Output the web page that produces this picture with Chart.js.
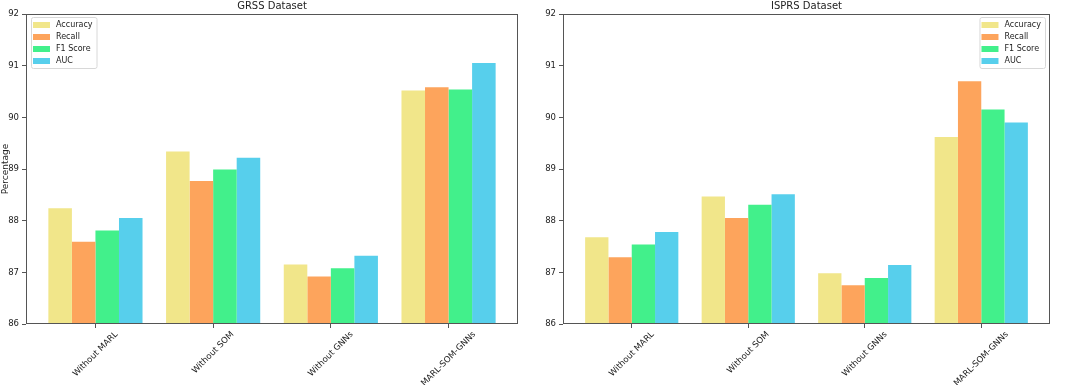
<!DOCTYPE html>
<html>
<head>
<meta charset="utf-8">
<script src="https://cdn.jsdelivr.net/npm/chart.js@4/dist/chart.umd.min.js"></script>
<style>
    html, body { margin: 0; padding: 0; background: #fff; }
    #wrap { position: relative; width: 1065px; height: 385px; }
    canvas { position: absolute; top: 0; }
</style>
</head>
<body>
<div id="wrap">
    <canvas id="grssChart" width="532" height="385" style="left:0"></canvas>
    <canvas id="isprsChart" width="533" height="385" style="left:532px"></canvas>
</div>
<script>
// ablation results
const categories = ['Without MARL', 'Without SOM', 'Without GNNs', 'MARL-SOM-GNNs'];
const seriesNames = ['Accuracy', 'Recall', 'F1 Score', 'AUC'];
const seriesColors = ['#F1E68A', '#FDA45C', '#42F08B', '#57CFEC'];

const grssAccuracy = [88.24, 89.34, 87.15, 90.52];
const grssRecall   = [87.59, 88.77, 86.92, 90.58];
const grssF1       = [87.81, 88.99, 87.08, 90.54];
const grssAuc      = [88.05, 89.22, 87.32, 91.05];

const isprsAccuracy = [87.68, 88.47, 86.98, 89.62];
const isprsRecall   = [87.29, 88.05, 86.75, 90.70];
const isprsF1       = [87.54, 88.31, 86.89, 90.15];
const isprsAuc      = [87.78, 88.51, 87.14, 89.90];

const yTicks = [86, 87, 88, 89, 90, 91, 92];

const FONT = "'DejaVu Sans', sans-serif";
const TEXT = '#222';
const AXIS = '#555';

// box around the plot (matplotlib spines) + title centred over the axes
const framePlugin = {
    id: 'frame',
    afterDraw(chart, args, opts) {
        const { ctx, chartArea: a } = chart;
        ctx.save();
        ctx.strokeStyle = AXIS;
        ctx.lineWidth = 1;
        ctx.strokeRect(Math.round(a.left) + 0.5, Math.round(a.top) + 0.5,
            Math.round(a.right - a.left) - 1, Math.round(a.bottom - a.top) - 1);
        ctx.font = '10px ' + FONT;
        ctx.fillStyle = TEXT;
        ctx.textAlign = 'center';
        ctx.textBaseline = 'middle';
        ctx.fillText(opts.title, (a.left + a.right) / 2, 6);
        ctx.restore();
    }
};

// rotated category labels centred on the tick
const xLabelPlugin = {
    id: 'xLabels',
    afterDraw(chart) {
        const { ctx, chartArea: a } = chart;
        const xs = chart.scales.x;
        const size = 8.5;
        ctx.save();
        ctx.font = size + 'px ' + FONT;
        ctx.fillStyle = TEXT;
        ctx.textAlign = 'center';
        ctx.textBaseline = 'middle';
        categories.forEach((c, i) => {
            const px = xs.getPixelForValue(i);
            const w = ctx.measureText(c).width;
            const half = (w + size) / (2 * Math.SQRT2);
            ctx.save();
            ctx.translate(px, a.bottom + 6 + half);
            ctx.rotate(-Math.PI / 4);
            ctx.fillText(c, 0, 0);
            ctx.restore();
        });
        ctx.restore();
    }
};

// legend drawn inside the plot area
const innerLegendPlugin = {
    id: 'innerLegend',
    afterDraw(chart, args, opts) {
        const { ctx, chartArea: a } = chart;
        const sets = chart.data.datasets;
        ctx.save();
        ctx.font = '8px ' + FONT;
        const textW = Math.max(...sets.map(d => ctx.measureText(d.label).width));
        const boxW = 25 + textW + 4;
        const rowH = 12;
        const boxH = sets.length * rowH + 3;
        const x0 = opts.side === 'right' ? a.right - 5 - boxW : a.left + 5;
        const y0 = a.top + 3;
        ctx.fillStyle = 'rgba(255,255,255,0.85)';
        ctx.strokeStyle = '#d8d8d8';
        ctx.lineWidth = 1;
        ctx.beginPath();
        ctx.roundRect(x0 + 0.5, y0 + 0.5, boxW, boxH, 2);
        ctx.fill();
        ctx.stroke();
        ctx.textBaseline = 'middle';
        sets.forEach((d, i) => {
            const cy = y0 + 8 + i * rowH;
            ctx.fillStyle = d.backgroundColor;
            ctx.fillRect(x0 + 2, cy - 3, 17, 6);
            ctx.fillStyle = TEXT;
            ctx.fillText(d.label, x0 + 25, cy);
        });
        ctx.restore();
    }
};

function makeDatasets(values) {
    return values.map((vals, k) => ({
        label: seriesNames[k],
        data: vals.map((v, i) => ({ x: i, y: v })),
        backgroundColor: seriesColors[k],
        borderWidth: 0,
        categoryPercentage: 0.8,
        barPercentage: 1.0
    }));
}

function makeChart(id, title, values, opts) {
    const ctx = document.getElementById(id).getContext('2d');
    return new Chart(ctx, {
        type: 'bar',
        data: { datasets: makeDatasets(values) },
        plugins: [framePlugin, xLabelPlugin, innerLegendPlugin],
        options: {
            responsive: false,
            animation: false,
            devicePixelRatio: 1,
            layout: { padding: { left: 0, right: opts.padRight, top: 14, bottom: 0 } },
            plugins: {
                legend: { display: false },
                tooltip: { enabled: false },
                title: { display: false },
                frame: { title: title },
                innerLegend: { side: opts.legendSide }
            },
            scales: {
                x: {
                    type: 'linear',
                    offset: false,
                    min: -0.59,
                    max: 3.59,
                    afterBuildTicks: s => { s.ticks = categories.map((c, i) => ({ value: i })); },
                    afterFit: s => { s.height = 61; },
                    ticks: { display: false },
                    grid: { display: true, offset: false, drawOnChartArea: false, drawTicks: true, tickLength: 4, color: AXIS },
                    border: { display: false }
                },
                y: {
                    min: yTicks[0],
                    max: yTicks[yTicks.length - 1],
                    afterBuildTicks: s => { s.ticks = yTicks.map(v => ({ value: v })); },
                    afterFit: s => { s.width = opts.yWidth; },
                    ticks: { color: TEXT, padding: 3, font: { family: FONT, size: 8.5 } },
                    grid: { display: true, drawOnChartArea: false, drawTicks: true, tickLength: 4, color: AXIS },
                    border: { display: false },
                    title: {
                        display: !!opts.yTitle,
                        text: opts.yTitle || '',
                        color: TEXT,
                        padding: 0,
                        font: { family: FONT, size: 9 }
                    }
                }
            }
        }
    });
}

makeChart('grssChart', 'GRSS Dataset',
    [grssAccuracy, grssRecall, grssF1, grssAuc],
    { padRight: 14, yWidth: 26, yTitle: 'Percentage', legendSide: 'left' });

makeChart('isprsChart', 'ISPRS Dataset',
    [isprsAccuracy, isprsRecall, isprsF1, isprsAuc],
    { padRight: 15, yWidth: 31, legendSide: 'right' });
</script>
</body>
</html>
